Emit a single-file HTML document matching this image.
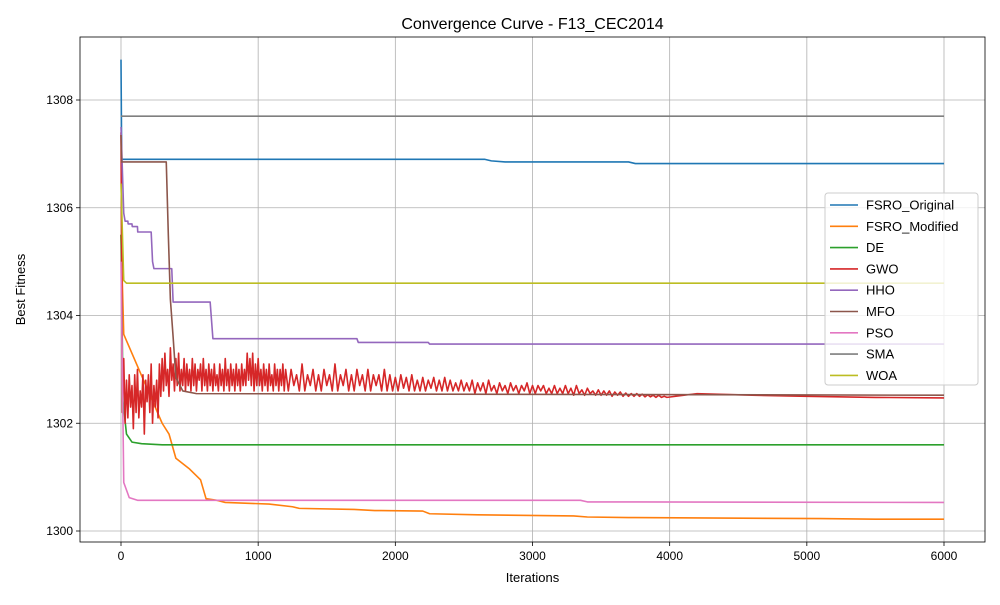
<!DOCTYPE html>
<html><head><meta charset="utf-8"><style>
body{margin:0;background:#fff;font-family:"Liberation Sans","DejaVu Sans",sans-serif}
</style></head><body>
<svg id="chart" width="1000" height="600" xmlns="http://www.w3.org/2000/svg"></svg>
<script>
const seriesNames=["FSRO_Original","FSRO_Modified","DE","GWO","HHO","MFO","PSO","SMA","WOA"];
const colors=["#1f77b4","#ff7f0e","#2ca02c","#d62728","#9467bd","#8c564b","#e377c2","#7f7f7f","#bcbd22"];
const xTicks=[0,1000,2000,3000,4000,5000,6000];
const yTicks=[1300,1302,1304,1306,1308];
const fsroOriginal=[[0,1308.75],[5,1306.9],[2650,1306.9],[2700,1306.87],[2800,1306.85],[3700,1306.85],[3750,1306.82],[6000,1306.82]];
const fsroModified=[[0,1305.5],[20,1303.65],[300,1302.0],[350,1301.8],[400,1301.35],[500,1301.15],[580,1300.95],[620,1300.6],[700,1300.57],[760,1300.53],[1080,1300.5],[1250,1300.45],[1300,1300.42],[1700,1300.4],[1850,1300.38],[2200,1300.37],[2250,1300.32],[2600,1300.3],[3300,1300.28],[3400,1300.26],[3700,1300.25],[5100,1300.23],[5500,1300.22],[6000,1300.22]];
const de=[[0,1305.5],[15,1302.4],[40,1301.8],[80,1301.65],[150,1301.62],[300,1301.6],[6000,1301.6]];
const hho=[[0,1307.5],[20,1305.9],[30,1305.75],[50,1305.75],[52,1305.7],[80,1305.7],[82,1305.65],[120,1305.65],[122,1305.55],[220,1305.55],[230,1305],[240,1304.87],[370,1304.87],[380,1304.25],[650,1304.25],[670,1303.57],[1720,1303.57],[1730,1303.5],[2240,1303.5],[2250,1303.47],[6000,1303.47]];
const mfo=[[0,1307.35],[5,1306.85],[330,1306.85],[345,1305.5],[360,1304.3],[380,1303.6],[400,1302.85],[450,1302.6],[550,1302.55],[6000,1302.52]];
const pso=[[0,1305],[20,1300.9],[60,1300.62],[120,1300.57],[3350,1300.57],[3400,1300.54],[6000,1300.53]];
const sma=[[0,1307.7],[6000,1307.7]];
const woa=[[0,1306.45],[20,1304.65],[40,1304.6],[6000,1304.6]];
const gwoEarlyStep=10;
const gwoEarly=[1307.4,1302.2,1303.2,1302.0,1302.8,1302.1,1302.9,1302.3,1302.7,1301.9,1302.9,1302.2,1303.0,1302.1,1302.6,1302.3,1302.9,1301.8,1302.8,1302.4,1302.9,1302.2,1303.1,1302.0,1302.7,1302.3,1302.8,1302.1,1303.1,1302.5,
1303.2,1302.6,1303.3,1302.7,1303.0,1302.5,1303.4,1302.8,1303.1,1302.6,1303.2,1302.7,1303.3,1302.6,1303.0,1302.7,1303.2,1302.6,1303.1,1302.7,1303.0,1302.6,1303.2,1302.7,1303.1,1302.6,1303.0,1302.8,1303.1,1302.6,
1303.2,1302.7,1303.0,1302.6,1303.1,1302.7,1303.0,1302.6,1303.1,1302.7,1302.9,1302.6,1303.1,1302.7,1303.0,1302.6,1303.2,1302.7,1303.0,1302.6,1303.1,1302.7,1303.0,1302.6,1303.1,1302.7,1303.0,1302.6,1303.1,1302.7,
1303.0,1302.7,1303.3,1302.8,1303.2,1302.7,1303.3,1302.6,1303.1,1302.7,1303.2,1302.7,1303.0,1302.6,1303.1,1302.7,1303.0,1302.6,1303.1,1302.7,1302.9,1302.6,1303.1,1302.7,1303.0,1302.6,1303.0,1302.7,1303.1,1302.6];
const gwoLateStart=1200;
const gwoLateStep=20;
const gwoLate=[1303.0,1302.6,1303.0,1302.7,1302.9,1302.6,1303.1,1302.6,1302.9,1302.7,1303.0,1302.6,1302.9,1302.6,1303.0,1302.7,1302.9,1302.6,1303.1,1302.6,1302.9,1302.7,1303.0,1302.6,1302.9,1302.6,1303.0,1302.7,1302.9,1302.6,
1303.0,1302.6,1302.9,1302.7,1302.9,1302.6,1303.0,1302.6,1302.9,1302.6,1302.85,1302.6,1302.9,1302.65,1302.85,1302.6,1302.9,1302.6,1302.8,1302.6,1302.85,1302.6,1302.8,1302.65,1302.85,1302.6,1302.8,1302.6,1302.85,1302.6,
1302.8,1302.6,1302.75,1302.6,1302.8,1302.6,1302.75,1302.6,1302.8,1302.55,1302.75,1302.6,1302.75,1302.55,1302.8,1302.6,1302.7,1302.55,1302.75,1302.6,1302.7,1302.55,1302.75,1302.6,1302.7,1302.55,1302.7,1302.6,1302.75,1302.55,
1302.7,1302.55,1302.7,1302.6,1302.7,1302.55,1302.65,1302.55,1302.7,1302.55,1302.65,1302.55,1302.7,1302.55,1302.65,1302.52,1302.7,1302.55,1302.62,1302.52,1302.65,1302.55,1302.6,1302.52,1302.62,1302.52,1302.6,1302.52,1302.6,1302.5,
1302.58,1302.52,1302.58,1302.5,1302.56,1302.5,1302.55,1302.5,1302.55,1302.5,1302.54,1302.49,1302.53,1302.49,1302.52,1302.48,1302.52,1302.48,1302.5,1302.48];
const gwoTailIters=[4200,4600,5000,5500,6000];
const gwoTail=[1302.55,1302.52,1302.5,1302.48,1302.47];
const gwo=gwoEarly.map((v,i)=>[i*gwoEarlyStep,v]).concat(gwoLate.map((v,i)=>[gwoLateStart+i*gwoLateStep,v])).concat(gwoTail.map((v,i)=>[gwoTailIters[i],v]));
const allSeries=[fsroOriginal,fsroModified,de,gwo,hho,mfo,pso,sma,woa];
const NS="http://www.w3.org/2000/svg";
const svg=document.getElementById('chart');
const L=80,R=985,T=37,B=542;
const xS=v=>121+v*(823/6000);
const yS=v=>531-(v-1300)*53.875;
function mk(tag,attrs,parent){const e=document.createElementNS(NS,tag);for(const k in attrs)e.setAttribute(k,attrs[k]);(parent||svg).appendChild(e);return e;}
const grid=mk('g',{});


xTicks.forEach(t=>{const x=xS(t);
 const l=mk('line',{x1:x,x2:x,y1:T,y2:B,stroke:'#b0b0b0','stroke-width':0.8},grid);
 
 
 mk('line',{x1:x,x2:x,y1:B,y2:B+4,stroke:'#000','stroke-width':0.8});
 const tx=mk('text',{x:x,y:B+18,'text-anchor':'middle','font-size':12});tx.textContent=t;
 
 
});
yTicks.forEach(t=>{const y=yS(t);
 const l=mk('line',{x1:L,x2:R,y1:y,y2:y,stroke:'#b0b0b0','stroke-width':0.8},grid);
 
 
 mk('line',{x1:L-4,x2:L,y1:y,y2:y,stroke:'#000','stroke-width':0.8});
 const tx=mk('text',{x:L-7,y:y+4,'text-anchor':'end','font-size':12});tx.textContent=t;
 
 
});
allSeries.forEach((s,i)=>{
 const p=mk('polyline',{points:s.map(d=>xS(d[0])+','+yS(d[1])).join(' '),fill:'none',stroke:colors[i],'stroke-width':1.6,'stroke-linejoin':'round'});
 
 
});
const frame=mk('rect',{x:L,y:T,width:R-L,height:B-T,fill:'none',stroke:'#000','stroke-width':0.8});


const title=mk('text',{x:(L+R)/2,y:29,'text-anchor':'middle','font-size':16});title.textContent='Convergence Curve - F13_CEC2014';


const xt=mk('text',{x:(L+R)/2,y:582,'text-anchor':'middle','font-size':13});xt.textContent='Iterations';


const yt=mk('text',{x:25,y:(T+B)/2,'text-anchor':'middle','font-size':13,transform:'rotate(-90 25 '+((T+B)/2)+')'});yt.textContent='Best Fitness';


const lg=mk('g',{});


mk('rect',{x:825,y:193,width:153,height:192,rx:3,fill:'#fff','fill-opacity':0.8,stroke:'#ccc'},lg);
seriesNames.forEach((n,i)=>{const y=205+i*21.3;
 const e=mk('g',{},lg);
 
 
 mk('line',{x1:830,x2:858,y1:y,y2:y,stroke:colors[i],'stroke-width':1.6},e);
 const tx=mk('text',{x:866,y:y+4.5,'font-size':13},e);tx.textContent=n;
});
</script>
</body></html>
